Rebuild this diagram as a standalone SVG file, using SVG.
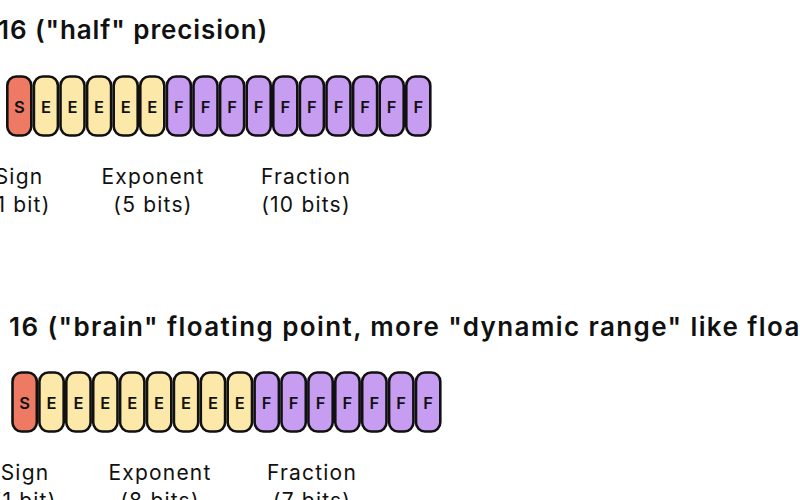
<svg xmlns="http://www.w3.org/2000/svg" width="800" height="500" viewBox="0 0 800 500">
<style>
.t{font-family:Inter,"Liberation Sans",sans-serif;font-size:26px;font-weight:600;fill:#111;letter-spacing:0.9px}
.t2{letter-spacing:1.4px}
.l{font-family:Inter,"Liberation Sans",sans-serif;font-size:21px;font-weight:400;fill:#111;text-anchor:middle;letter-spacing:1.2px}
.c{stroke:#111;stroke-width:2.6}
.s{fill:#EE7A63}.e{fill:#FCE8A8}.f{fill:#C79DF2}
.b{font-family:Inter,"Liberation Sans",sans-serif;font-size:16.5px;font-weight:600;fill:#111;text-anchor:middle}
</style>
<rect width="800" height="500" fill="#fff"/>
<g id="fp16">
<text class="t" x="-2" y="39">16 ("half" precision)</text>
<g id="fp16-bits">
<rect class="c s" x="7.3" y="76.5" width="24" height="59" rx="9"/>
<rect class="c e" x="33.9" y="76.5" width="24" height="59" rx="9"/>
<rect class="c e" x="60.5" y="76.5" width="24" height="59" rx="9"/>
<rect class="c e" x="87.1" y="76.5" width="24" height="59" rx="9"/>
<rect class="c e" x="113.7" y="76.5" width="24" height="59" rx="9"/>
<rect class="c e" x="140.3" y="76.5" width="24" height="59" rx="9"/>
<rect class="c f" x="166.9" y="76.5" width="24" height="59" rx="9"/>
<rect class="c f" x="193.5" y="76.5" width="24" height="59" rx="9"/>
<rect class="c f" x="220.1" y="76.5" width="24" height="59" rx="9"/>
<rect class="c f" x="246.7" y="76.5" width="24" height="59" rx="9"/>
<rect class="c f" x="273.3" y="76.5" width="24" height="59" rx="9"/>
<rect class="c f" x="299.9" y="76.5" width="24" height="59" rx="9"/>
<rect class="c f" x="326.5" y="76.5" width="24" height="59" rx="9"/>
<rect class="c f" x="353.1" y="76.5" width="24" height="59" rx="9"/>
<rect class="c f" x="379.7" y="76.5" width="24" height="59" rx="9"/>
<rect class="c f" x="406.3" y="76.5" width="24" height="59" rx="9"/>
<text class="b" y="112.5"><tspan x="19.3">S</tspan><tspan x="45.9">E</tspan><tspan x="72.5">E</tspan><tspan x="99.1">E</tspan><tspan x="125.7">E</tspan><tspan x="152.3">E</tspan><tspan x="178.9">F</tspan><tspan x="205.5">F</tspan><tspan x="232.1">F</tspan><tspan x="258.7">F</tspan><tspan x="285.3">F</tspan><tspan x="311.9">F</tspan><tspan x="338.5">F</tspan><tspan x="365.1">F</tspan><tspan x="391.7">F</tspan><tspan x="418.3">F</tspan></text>
</g>
<text class="l" x="19" y="184">Sign</text>
<text class="l" x="19" y="212">(1 bit)</text>
<text class="l" x="153" y="184">Exponent</text>
<text class="l" x="153" y="212">(5 bits)</text>
<text class="l" x="306" y="184">Fraction</text>
<text class="l" x="306" y="212">(10 bits)</text>
</g>
<g id="bf16">
<text class="t t2" x="9" y="336">16 ("brain" floating point, more "dynamic range" like floa</text>
<g id="bf16-bits">
<rect class="c s" x="12.5" y="372.5" width="24.3" height="59" rx="9"/>
<rect class="c e" x="39.4" y="372.5" width="24.3" height="59" rx="9"/>
<rect class="c e" x="66.3" y="372.5" width="24.3" height="59" rx="9"/>
<rect class="c e" x="93.2" y="372.5" width="24.3" height="59" rx="9"/>
<rect class="c e" x="120.1" y="372.5" width="24.3" height="59" rx="9"/>
<rect class="c e" x="147.0" y="372.5" width="24.3" height="59" rx="9"/>
<rect class="c e" x="173.9" y="372.5" width="24.3" height="59" rx="9"/>
<rect class="c e" x="200.8" y="372.5" width="24.3" height="59" rx="9"/>
<rect class="c e" x="227.7" y="372.5" width="24.3" height="59" rx="9"/>
<rect class="c f" x="254.6" y="372.5" width="24.3" height="59" rx="9"/>
<rect class="c f" x="281.5" y="372.5" width="24.3" height="59" rx="9"/>
<rect class="c f" x="308.4" y="372.5" width="24.3" height="59" rx="9"/>
<rect class="c f" x="335.3" y="372.5" width="24.3" height="59" rx="9"/>
<rect class="c f" x="362.2" y="372.5" width="24.3" height="59" rx="9"/>
<rect class="c f" x="389.1" y="372.5" width="24.3" height="59" rx="9"/>
<rect class="c f" x="416.0" y="372.5" width="24.3" height="59" rx="9"/>
<text class="b" y="408.5"><tspan x="24.6">S</tspan><tspan x="51.5">E</tspan><tspan x="78.4">E</tspan><tspan x="105.3">E</tspan><tspan x="132.2">E</tspan><tspan x="159.1">E</tspan><tspan x="186.0">E</tspan><tspan x="212.9">E</tspan><tspan x="239.8">E</tspan><tspan x="266.7">F</tspan><tspan x="293.6">F</tspan><tspan x="320.5">F</tspan><tspan x="347.4">F</tspan><tspan x="374.3">F</tspan><tspan x="401.2">F</tspan><tspan x="428.1">F</tspan></text>
</g>
<text class="l" x="25" y="480">Sign</text>
<text class="l" x="25" y="508">(1 bit)</text>
<text class="l" x="160" y="480">Exponent</text>
<text class="l" x="160" y="508">(8 bits)</text>
<text class="l" x="312" y="480">Fraction</text>
<text class="l" x="312" y="508">(7 bits)</text>
</g>
</svg>
